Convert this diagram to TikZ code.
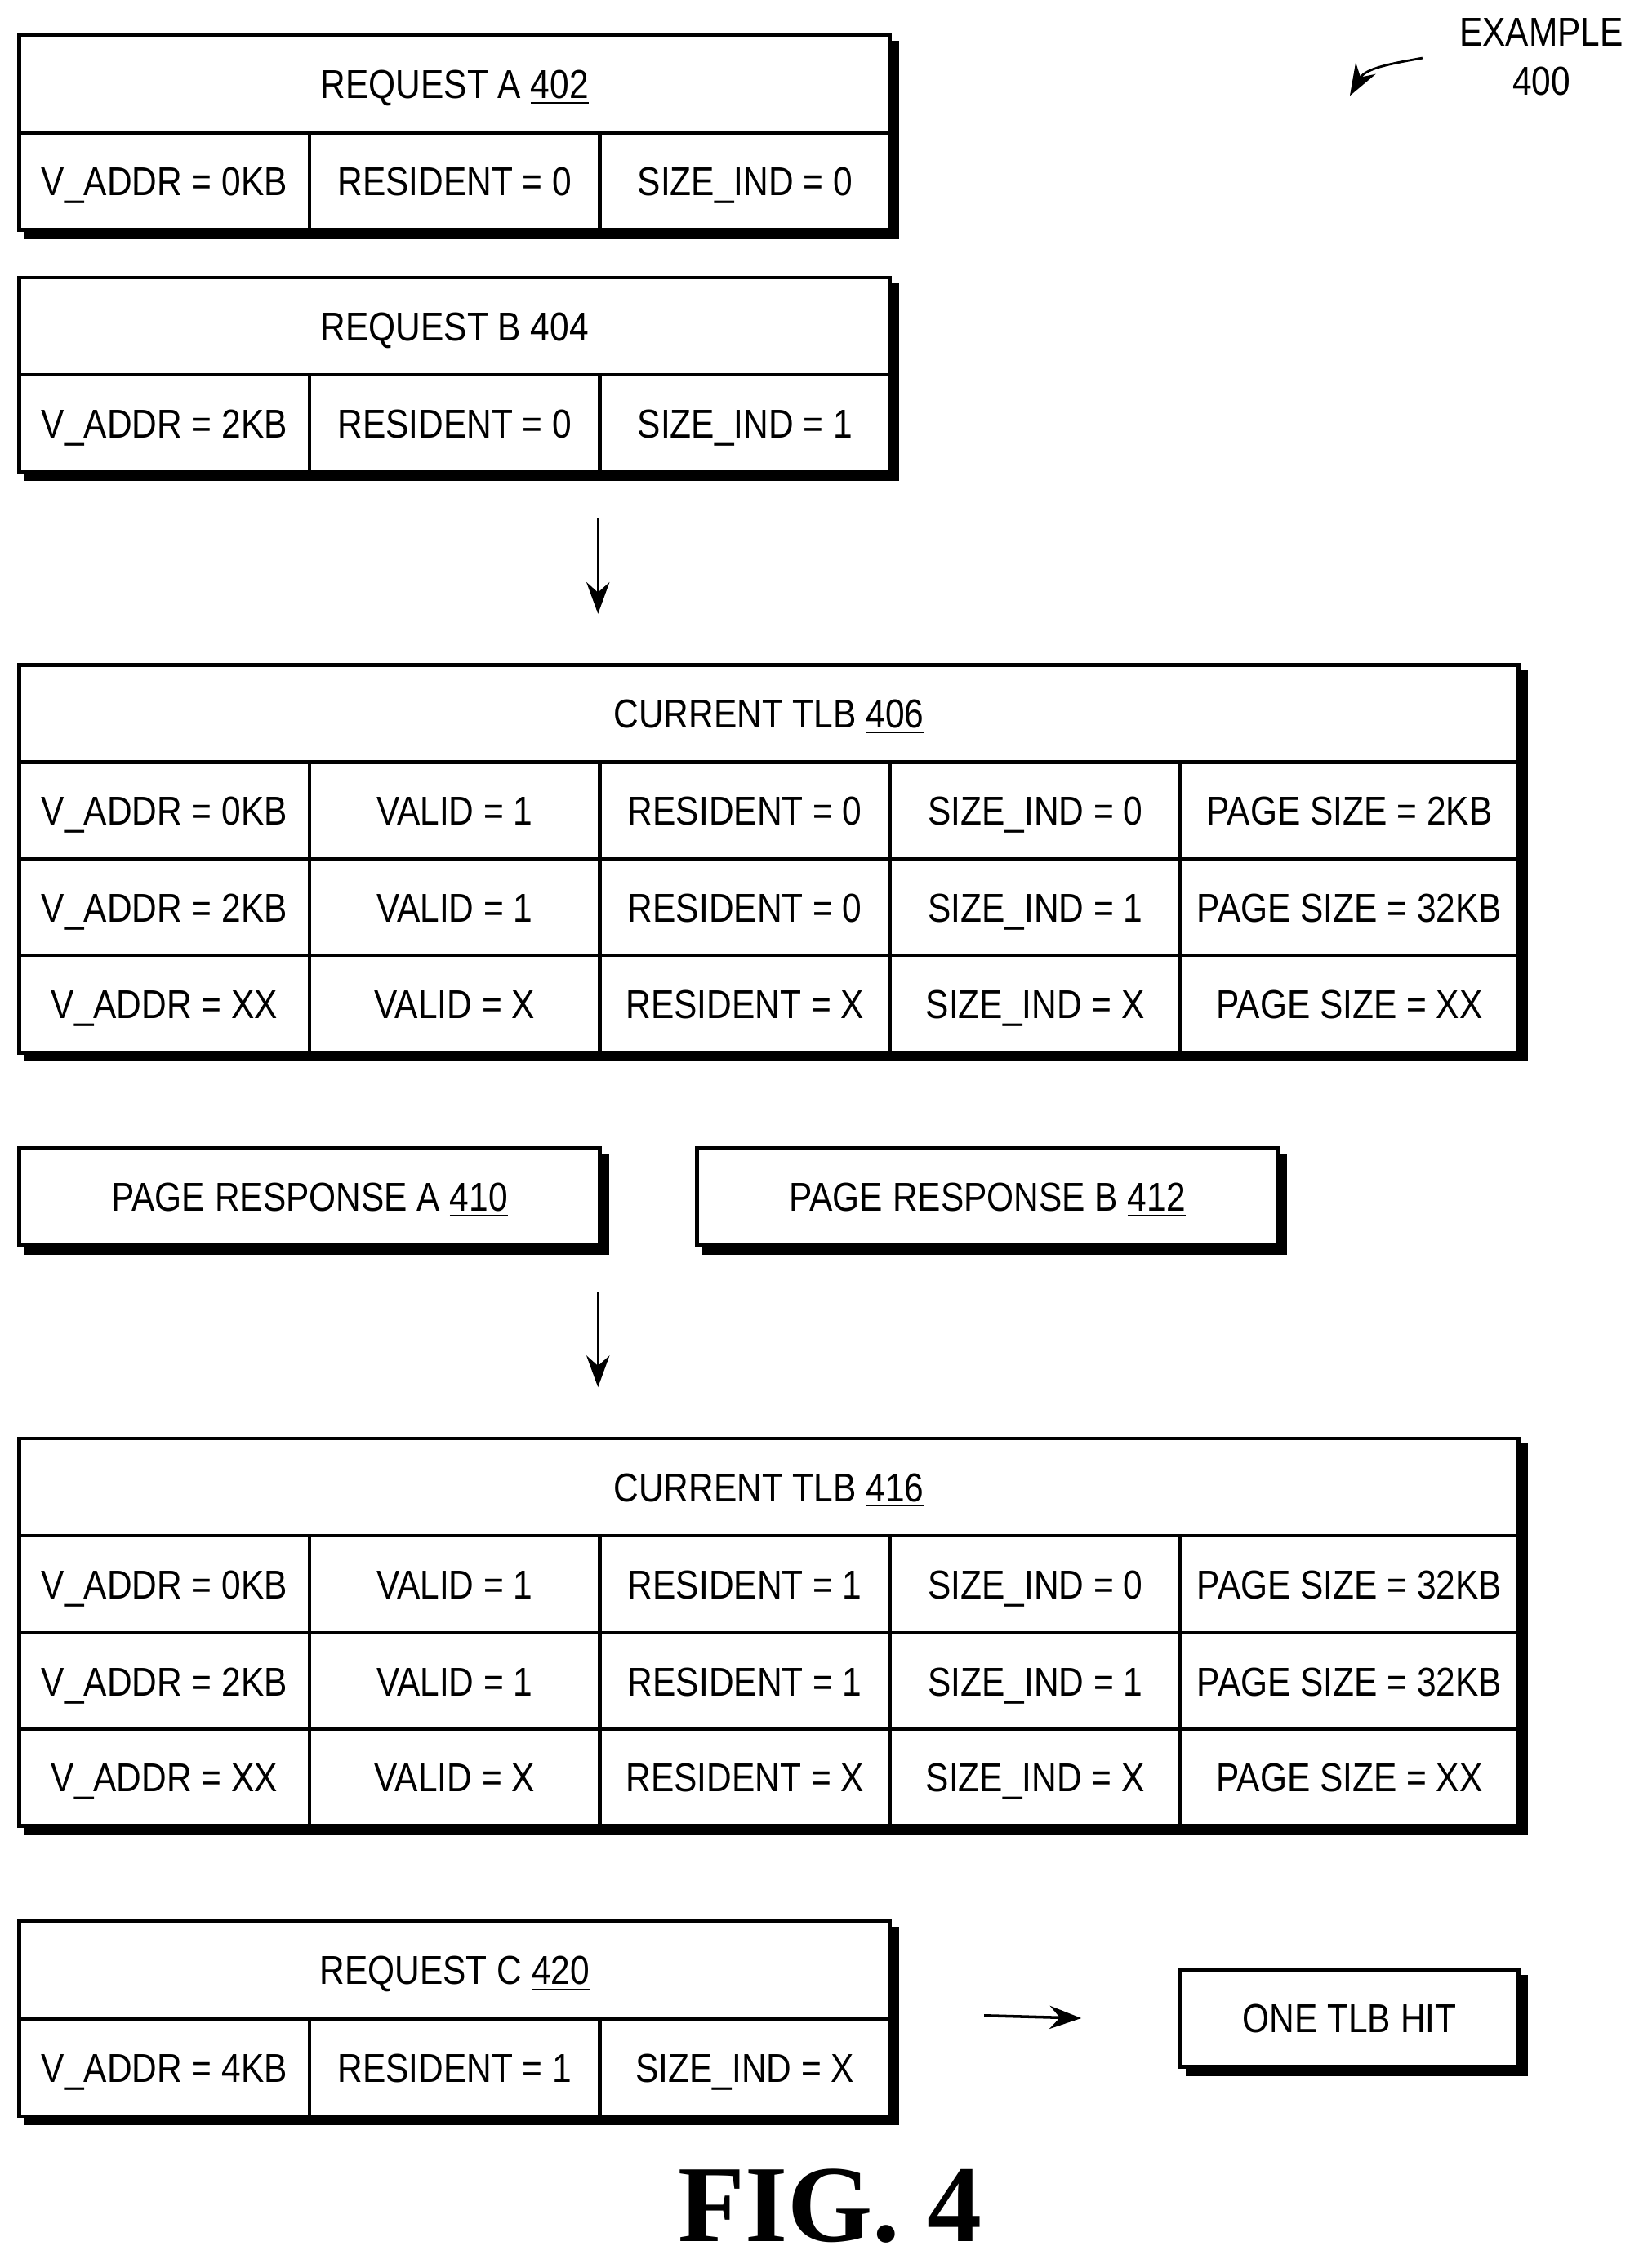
\documentclass[tikz,border=0pt]{standalone}
\usepackage{fontspec}
\setmainfont{Liberation Sans}[FakeStretch=0.86]
\newfontfamily\figfont{Liberation Serif}
\usetikzlibrary{arrows.meta,backgrounds}
\tikzset{
  cell/.style={draw,line width=1.3pt,fill=white,minimum height=33.8pt,minimum width=100.8pt,inner sep=0pt,anchor=north west,text height=10pt,text depth=0pt,font=\fontsize{14}{17}\selectfont},
  arr/.style={-{Stealth[length=11pt,width=8pt]},line width=1pt},
}
\newcommand{\shadowbg}[2]{\begin{scope}[on background layer]\fill ([shift={(5,5)}]#1) rectangle ([shift={(5,5)}]#2);\end{scope}}
\begin{document}
\begin{tikzpicture}[x=0.504pt,y=-0.504pt]
  \useasboundingbox (0,0) rectangle (1123,1563);
  % example label
  \node[font=\fontsize{14}{17}\selectfont,align=center] (ex) at (1062,39) {EXAMPLE\\400};
  \coordinate (ex1) at (980,40);
  \coordinate (ex2) at (930,66);
  \draw[arr,line width=0.8pt] (ex1) to[out=190,in=60] (ex2);
  % request A
  \node[cell,minimum width=302.4pt] (ra) at (12,23) {REQUEST A \underline{402}};
  \foreach \t [count=\i from 0] in {V\_ADDR = 0KB, RESIDENT = 0, SIZE\_IND = 0}
    \node[cell] (ra\i) at (12+200*\i,90) {\t};
  \shadowbg{ra.north west}{ra2.south east}
  % request B
  \node[cell,minimum width=302.4pt] (rb) at (12,190) {REQUEST B \underline{404}};
  \foreach \t [count=\i from 0] in {V\_ADDR = 2KB, RESIDENT = 0, SIZE\_IND = 1}
    \node[cell] (rb\i) at (12+200*\i,257) {\t};
  \shadowbg{rb.north west}{rb2.south east}
  \coordinate (a1s) at (412,357);
  \coordinate (a1e) at (412,423);
  \draw[arr] (a1s) -- (a1e);
  % TLB 406
  \node[cell,minimum width=520.6pt] (ta) at (12,457) {CURRENT TLB \underline{406}};
  \foreach \t [count=\i from 0] in {V\_ADDR = 0KB, VALID = 1, RESIDENT = 0, SIZE\_IND = 0}
    \node[cell] (ta1\i) at (12+200*\i,524) {\t};
  \node[cell,minimum width=117.4pt] (ta14) at (812,524) {PAGE SIZE = 2KB};
  \foreach \t [count=\i from 0] in {V\_ADDR = 2KB, VALID = 1, RESIDENT = 0, SIZE\_IND = 1}
    \node[cell] (ta2\i) at (12+200*\i,591) {\t};
  \node[cell,minimum width=117.4pt] (ta24) at (812,591) {PAGE SIZE = 32KB};
  \foreach \t [count=\i from 0] in {V\_ADDR = XX, VALID = X, RESIDENT = X, SIZE\_IND = X}
    \node[cell] (ta3\i) at (12+200*\i,657) {\t};
  \node[cell,minimum width=117.4pt] (ta34) at (812,657) {PAGE SIZE = XX};
  \shadowbg{ta.north west}{ta34.south east}
  % page responses
  \node[cell,minimum width=201.6pt] (pa) at (12,790) {PAGE RESPONSE A \underline{410}};
  \shadowbg{pa.north west}{pa.south east}
  \node[cell,minimum width=201.6pt] (pb) at (479,790) {PAGE RESPONSE B \underline{412}};
  \shadowbg{pb.north west}{pb.south east}
  \coordinate (a2s) at (412,890);
  \coordinate (a2e) at (412,956);
  \draw[arr] (a2s) -- (a2e);
  % TLB 416
  \node[cell,minimum width=520.6pt] (tb) at (12,990) {CURRENT TLB \underline{416}};
  \foreach \t [count=\i from 0] in {V\_ADDR = 0KB, VALID = 1, RESIDENT = 1, SIZE\_IND = 0}
    \node[cell] (tb1\i) at (12+200*\i,1057) {\t};
  \node[cell,minimum width=117.4pt] (tb14) at (812,1057) {PAGE SIZE = 32KB};
  \foreach \t [count=\i from 0] in {V\_ADDR = 2KB, VALID = 1, RESIDENT = 1, SIZE\_IND = 1}
    \node[cell] (tb2\i) at (12+200*\i,1124) {\t};
  \node[cell,minimum width=117.4pt] (tb24) at (812,1124) {PAGE SIZE = 32KB};
  \foreach \t [count=\i from 0] in {V\_ADDR = XX, VALID = X, RESIDENT = X, SIZE\_IND = X}
    \node[cell] (tb3\i) at (12+200*\i,1190) {\t};
  \node[cell,minimum width=117.4pt] (tb34) at (812,1190) {PAGE SIZE = XX};
  \shadowbg{tb.north west}{tb34.south east}
  % request C
  \node[cell,minimum width=302.4pt] (rc) at (12,1323) {REQUEST C \underline{420}};
  \foreach \t [count=\i from 0] in {V\_ADDR = 4KB, RESIDENT = 1, SIZE\_IND = X}
    \node[cell] (rc\i) at (12+200*\i,1390) {\t};
  \shadowbg{rc.north west}{rc2.south east}
  \node[cell,minimum width=117.4pt] (hit) at (812,1356) {ONE TLB HIT};
  \shadowbg{hit.north west}{hit.south east}
  \coordinate (a3s) at (678,1389);
  \draw[arr] (a3s) -- (hit.west -| 745,0);
  \node[font=\figfont\bfseries\fontsize{38}{42}\selectfont] (fig) at (572,1520) {FIG. 4};
\end{tikzpicture}
\end{document}
